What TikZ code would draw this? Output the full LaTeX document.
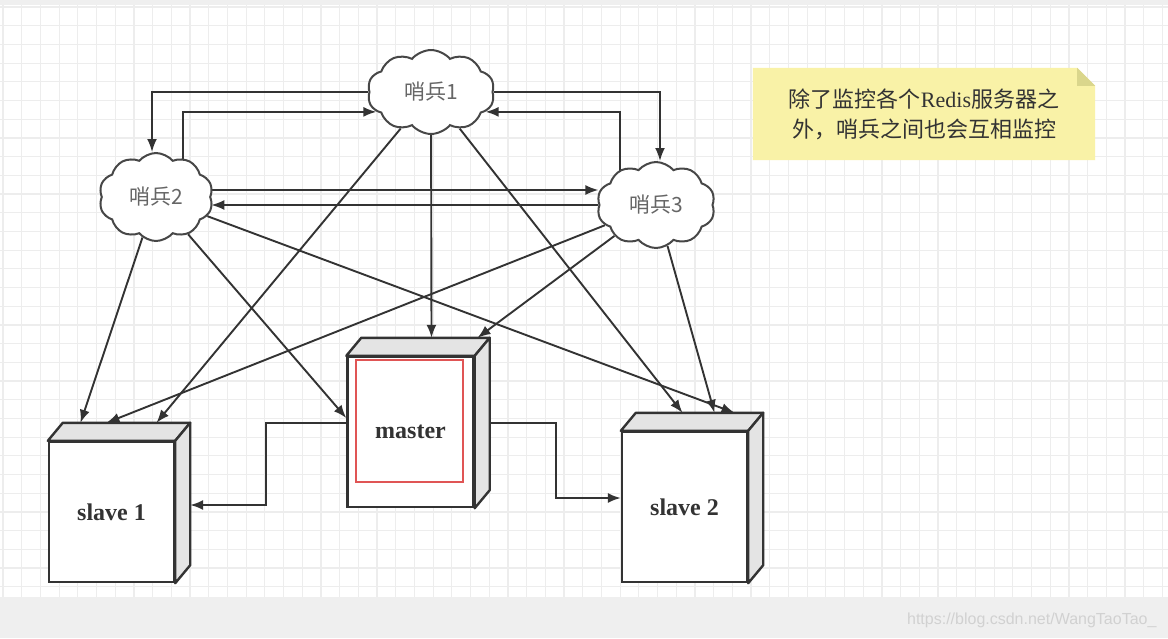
\documentclass[tikz,border=0pt]{standalone}
\usepackage{fontspec}
\setmainfont{Liberation Serif}
\newfontfamily\cjk{Noto Sans CJK SC}
\newfontfamily\wmfont{Liberation Sans}
\usetikzlibrary{positioning, shapes.symbols, arrows.meta, backgrounds}

\definecolor{linec}{HTML}{333333}
\definecolor{gridc}{HTML}{EDEDED}
\definecolor{facec}{HTML}{E4E4E4}
\definecolor{notec}{HTML}{F9F2A7}
\definecolor{foldc}{HTML}{DAD68C}
\definecolor{stripc}{HTML}{EFEFEF}
\definecolor{redc}{HTML}{E05555}

% top and side faces of a server box
\newcommand{\srvfaces}[1]{%
  \draw[face] (#1.north west) -- ++(15,-18) -- ([shift={(15,-18)}]#1.north east) -- (#1.north east) -- cycle;
  \draw[face] (#1.north east) -- ([shift={(15,-18)}]#1.north east) -- ([shift={(15,-18)}]#1.south east) -- (#1.south east) -- cycle;
}

\begin{document}
\begin{tikzpicture}[x=1pt, y=-1pt, >={Latex[length=13pt,width=10pt]}]
\tikzset{
    sentinel/.style={cloud, cloud puffs=10, cloud puff arc=100, cloud ignores aspect, draw=linec!90, line width=2pt, fill=white, inner sep=0pt, font=\cjk\fontsize{21}{24}\selectfont, text=linec!75},
    srv/.style={rectangle, draw=linec, line width=2.4pt, fill=white, minimum width=126pt, inner sep=0pt, font=\bfseries\fontsize{24}{28}\selectfont, text=linec},
    face/.style={draw=linec, line width=2.4pt, fill=facec, line join=round},
    arr/.style={->, draw=linec, line width=1.9pt},
    memo/.style={rectangle, minimum width=342pt, minimum height=92pt, align=center, font=\cjk\fontsize{22}{30}\selectfont, text=linec}
}
\useasboundingbox (0,0) rectangle (1168,638);

% background
\begin{scope}[on background layer]
\fill[white] (0,0) rectangle (1168,638);
\foreach \gx in {3,21.7,...,1168} \draw[gridc, line width=1.2pt] (\gx,5) -- (\gx,597);
\foreach \gy in {7,25.7,...,597} \draw[gridc, line width=1.2pt] (0,\gy) -- (1168,\gy);
\fill[stripc] (0,0) rectangle (1168,5);
\fill[stripc] (0,597) rectangle (1168,638);
\end{scope}

% nodes
\node[sentinel, minimum width=127pt, minimum height=84pt] (s1) at (431,92)  {哨兵1};
\node[sentinel, minimum width=114pt, minimum height=88pt] (s2) at (156,197) {哨兵2};
\node[sentinel, minimum width=118pt, minimum height=86pt] (s3) at (656,205) {哨兵3};

\node[srv, minimum height=150pt] (master) at (410.5,432) {master};
\node[srv, minimum height=140pt, minimum width=125pt] (slave1) at (111.5,512) {slave 1};
\node[srv, minimum height=150pt, minimum width=125pt] (slave2) at (684.5,507) {slave 2};
\srvfaces{master}
\srvfaces{slave1}
\srvfaces{slave2}
\draw[redc, line width=2pt] ([shift={(10,4)}]master.north west) rectangle ([shift={(-12,-26)}]master.south east);

\node[memo] (memo) at (924,114) {除了监控各个{\rmfamily Redis}服务器之\\外，哨兵之间也会互相监控};
\node[anchor=east, font=\wmfont\fontsize{16}{18}\selectfont, text=white!82!black] (wm) at (1160,620) {https://blog.csdn.net/WangTaoTao\_};

\coordinate (m23) at ([yshift=7pt]s2.east);

% arrows
\begin{scope}[on background layer]
\fill[notec] (memo.south west) -- (memo.north west) -- ([xshift=-18pt]memo.north east) -- ([yshift=-18pt]memo.north east) -- (memo.south east) -- cycle;
\fill[foldc] ([xshift=-18pt]memo.north east) -- ([yshift=-18pt]memo.north east) -- ([shift={(-18,18)}]memo.north east) -- cycle;

\draw[arr] (s1.west) -| ([xshift=-4pt]s2.north);
\draw[arr] ([xshift=27pt]s2.center) |- (s1.200);
\draw[arr] (s1.east) -| ([xshift=4pt]s3.north);
\draw[arr] ([xshift=-36pt]s3.center) |- (s1.-20);
\draw[arr] (m23) -- (m23 -| s3.west);
\draw[arr] (s3.west) -- (s3.west -| s2.east);

\draw[arr] (s1) -- ([shift={(45,-18)}]slave1.north);
\draw[arr] (s1) -- ([shift={(21,-18)}]master.north);
\draw[arr] (s1) -- ([shift={(-2,-18)}]slave2.north);
\draw[arr] (s2) -- ([shift={(-31,-18)}]slave1.north);
\draw[arr] (s2) -- ([shift={(0,-14)}]master.west);
\draw[arr] (s2) -- ([shift={(50,-18)}]slave2.north);
\draw[arr] (s3) -- ([shift={(-5,-18)}]slave1.north);
\draw[arr] (s3) -- ([shift={(67,-18)}]master.north);
\draw[arr] (s3) -- ([shift={(30,-18)}]slave2.north);

\draw[arr] ([shift={(0,-9)}]master.west) -- ++(-80,0) |- ([shift={(15,-7)}]slave1.east);
\draw[arr] ([shift={(15,-9)}]master.east) -- ++(66,0) |- ([shift={(0,-9)}]slave2.west);
\end{scope}

\end{tikzpicture}
\end{document}
